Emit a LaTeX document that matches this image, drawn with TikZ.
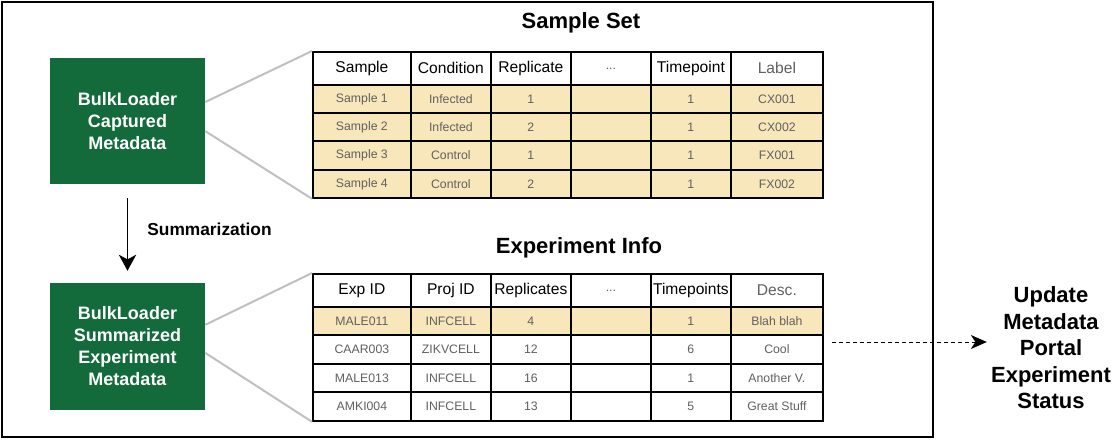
\documentclass[tikz,border=0pt]{standalone}
\usepackage{fontspec}
\setmainfont{Liberation Sans}
\usetikzlibrary{arrows.meta,calc}

\definecolor{bkgreen}{HTML}{136B3B}
\definecolor{rowfill}{HTML}{F8E7BB}
\definecolor{celltext}{HTML}{606060}
\definecolor{linkgrey}{HTML}{C0C0C0}

% column boundaries shared by both tables (in px)
\def\colx{{312,410,490,570,650,730,822}}

% one table row: name prefix, top, bottom, cell style, entries
\newcommand\tablerow[5]{%
  \foreach \txt [count=\i from 0] in {#5} {
    \pgfmathsetmacro\xa{\colx[\i]}
    \pgfmathsetmacro\xb{\colx[\i+1]}
    \node[#4, minimum width={(\xb-\xa)*0.75pt}, minimum height={(#3-#2)*0.75pt}]
      (#1-\i) at (\xa,#2) {\txt};
  }%
}

\tikzset{
  frame/.style={draw=black, line width=1.5pt},
  greenbox/.style={fill=bkgreen, text=white, align=center, inner sep=0pt,
    font=\bfseries\fontsize{13.5}{16.5}\selectfont, minimum width=116.25pt},
  basecell/.style={draw=black, line width=1.35pt, inner sep=0pt, anchor=north west},
  hdcell/.style={basecell, fill=white, text=black, font=\fontsize{11.7}{13}\selectfont},
  rowcell/.style={basecell, fill=rowfill, text=celltext, font=\fontsize{9.2}{11}\selectfont},
  plaincell/.style={basecell, fill=white, text=celltext, font=\fontsize{9.2}{11}\selectfont},
  title/.style={font=\bfseries\fontsize{16.5}{20}\selectfont, anchor=base, inner sep=0pt},
  link/.style={draw=linkgrey, line width=1.5pt},
  flow/.style={draw=black, line width=1.1pt, -{Stealth[length=12pt,width=13pt,inset=3.5pt]}},
  dashflow/.style={draw=black, line width=0.75pt, dash pattern=on 3pt off 2.25pt,
    -{Stealth[length=12pt,width=10.5pt,inset=3.5pt]}},
}

\begin{document}
\begin{tikzpicture}[x=0.75pt,y=-0.75pt]
\useasboundingbox (0,0) rectangle (1115,440);

% outer frame
\draw[frame] (2,2) rectangle (933,437);

% green source boxes
\node[greenbox, minimum height=94.5pt] (cap) at (127.5,121)
  {BulkLoader\\Captured\\Metadata};
\node[greenbox, minimum height=95.25pt] (sum) at (127.5,346.5)
  {BulkLoader\\Summarized\\Experiment\\Metadata};

\draw[flow, shorten <=10.5pt, shorten >=9pt] (cap.south) -- (sum.north);
\node[font=\bfseries\fontsize{13}{15}\selectfont, anchor=base, inner sep=0pt]
  (sumlabel) at (209.5,235) {Summarization};

% sample set table
\node[title] (sstitle) at (581,28) {Sample Set};
\tablerow{s0}{51}{84}{hdcell}{Sample,Condition,Replicate,\textcolor{celltext}{\fontsize{9.2}{11}\selectfont...},Timepoint,\textcolor{celltext}{Label}}
\tablerow{s1}{84}{112}{rowcell}{Sample 1,Infected,1,{},1,CX001}
\tablerow{s2}{112}{140}{rowcell}{Sample 2,Infected,2,{},1,CX002}
\tablerow{s3}{140}{169}{rowcell}{Sample 3,Control,1,{},1,FX001}
\tablerow{s4}{169}{197}{rowcell}{Sample 4,Control,2,{},1,FX002}

% experiment info table
\node[title] (eititle) at (579,253) {Experiment Info};
\tablerow{e0}{273}{306}{hdcell}{Exp ID,Proj ID,Replicates,\textcolor{celltext}{\fontsize{9.2}{11}\selectfont...},Timepoints,\textcolor{celltext}{Desc.}}
\tablerow{e1}{306}{334}{rowcell}{MALE011,INFCELL,4,{},1,Blah blah}
\tablerow{e2}{334}{363}{plaincell}{CAAR003,ZIKVCELL,12,{},6,Cool}
\tablerow{e3}{363}{391}{plaincell}{MALE013,INFCELL,16,{},1,Another V.}
\tablerow{e4}{391}{420}{plaincell}{AMKI004,INFCELL,13,{},5,Great Stuff}

% zoom-out links from boxes to tables
\draw[link] ($(cap.north east)!0.35!(cap.south east)$) -- (s0-0.north west);
\draw[link] ($(cap.north east)!0.58!(cap.south east)$) -- (s4-0.south west);
\draw[link] ($(sum.north east)!0.33!(sum.south east)$) -- (e0-0.north west);
\draw[link] ($(sum.north east)!0.55!(sum.south east)$) -- (e4-0.south west);

% status update target
\node[align=center, inner sep=0pt, font=\bfseries\fontsize{16.5}{19.9}\selectfont]
  (upd) at (1051,348) {Update\\Metadata\\Portal\\Experiment\\Status};
\coordinate (dstart) at (832,342);
\draw[dashflow, shorten >=3pt] (dstart) -- (dstart -| upd.west);
\end{tikzpicture}
\end{document}
